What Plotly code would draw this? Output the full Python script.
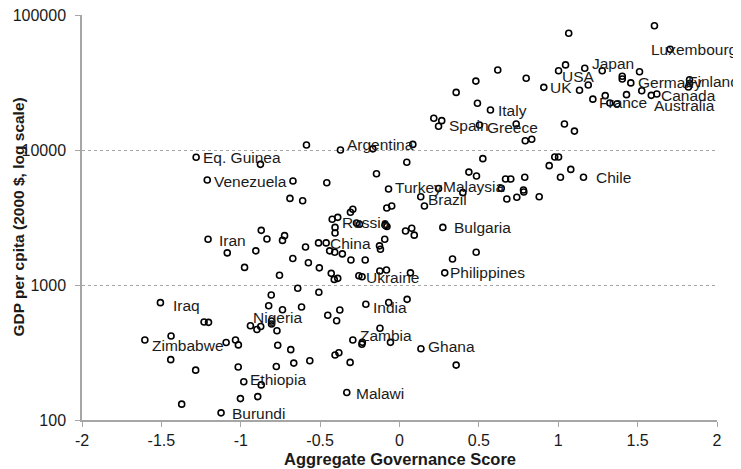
import math
import plotly.graph_objects as go

# Governance score (x) and GDP per capita (y) for each country point
gov = [1.606, 1.066, 1.705, 1.046, 1.167, 1.002, 1.277, 1.512, 1.403, 1.403,
       1.457, 1.189, 1.134, 0.909, 1.218, 1.296, 1.325, 1.369, 1.430, 1.526,
       1.586, 1.621, 1.827, 1.827, 1.820, 0.619, 0.798, 0.481, 0.357, 0.491,
       0.573, 0.216, 0.266, 0.246, 0.504, 0.735, 1.039, 1.102, 0.792, 0.833,
       0.084, -0.372, -0.168, -0.586,
       0.046, 0.525, 0.978, 1.002, 0.943, 1.079, 1.159, 1.014, 0.789, 0.668,
       0.701, 0.437, 0.485, 0.641, 0.781, 0.783, 0.676, 0.739, 0.880, 0.399,
       0.246, 0.134, 0.157, -1.281, -0.876, -1.211, -0.671, -0.458, -0.145, -0.069,
       -0.690, -0.610, -0.080, -0.049, -0.294, -0.309, -0.424, -0.389, -0.271, -0.252,
       -0.406, -0.406, -0.091, -0.079, -0.088, 0.038, -0.093, -0.126, -0.120, -1.206,
       -0.871, -0.835, -0.724, -0.737, -1.085, -0.905, -0.592, -0.510, -0.462, -0.440,
       -0.408, -0.360, -0.306, -0.216, -0.672, -0.574, -0.505, -0.976, -0.756, -0.430,
       -0.411, -0.389, -0.256, -0.236, -0.124, -0.082, 0.069, 0.077, 0.093, 0.273,
       0.483, 0.334, 0.285,
       -0.808, -0.641, -0.508, -1.506, -1.231, -1.203, -1.439, -1.604, -1.441, -1.284,
       -1.372, -1.124, -1.092, -1.033, -1.015, -1.016, -0.981, -0.871, -1.002, -0.893,
       -0.824, -0.737, -0.617, -0.939, -0.898, -0.874, -0.806, -0.806, -0.772, -0.767,
       -0.685, -0.776, -0.666, -0.565, -0.452, -0.376, -0.396, -0.212, -0.068, 0.048,
       -0.123, -0.294, -0.234, -0.237, -0.057, -0.406, -0.382, -0.311, -0.332, 0.135,
       0.357]

gdp = [83300, 73200, 55700, 42700, 40300, 38600, 38600, 38000, 35200, 33600,
       31400, 30300, 27700, 29100, 23800, 25300, 22300, 21900, 25700, 27500,
       25400, 26000, 33100, 31100, 29300, 39100, 34000, 32400, 26700, 22200,
       19800, 17200, 16500, 15000, 15300, 15600, 15600, 13800, 11700, 12000,
       11000, 10000, 10200, 10900,
       8110, 8630, 8870, 8870, 7660, 7180, 6290, 6290, 6290, 6100,
       6100, 6860, 6410, 5200, 5060, 4890, 4340, 4470, 4500, 4830,
       5190, 4510, 3850, 8840, 7830, 6000, 5890, 5720, 6670, 5140,
       4380, 4210, 3720, 3850, 3640, 3460, 3070, 3170, 2880, 2820,
       2670, 2430, 2800, 2710, 2760, 2510, 2180, 1950, 1840, 2180,
       2540, 2190, 2320, 2140, 1730, 1790, 1910, 2050, 2050, 1790,
       1750, 1700, 1530, 1530, 1570, 1460, 1340, 1350, 1180, 1220,
       1100, 1120, 1170, 1150, 1270, 1290, 1230, 2630, 2340, 2670,
       1750, 1560, 1230,
       843, 946, 883, 740, 532, 529, 419, 391, 280, 234,
       131, 113, 375, 391, 360, 247, 192, 182, 144, 149,
       702, 655, 687, 499, 468, 493, 541, 514, 458, 358,
       332, 249, 264, 275, 597, 653, 543, 720, 741, 783,
       478, 391, 376, 364, 376, 303, 315, 267, 160, 337,
       255]

# Country labels and the data position of each label's left edge
label_names = ["Luxembourg", "Japan", "USA", "UK", "Germany", "Finland", "Canada",
               "France", "Australia", "Italy", "Spain", "Greece", "Argentina",
               "Eq. Guinea", "Venezuela", "Turkey", "Malaysia", "Brazil", "Chile",
               "Russia", "China", "Iran", "Bulgaria", "Ukraine", "Philippines",
               "Iraq", "India", "Nigeria", "Zambia", "Zimbabwe", "Ghana",
               "Ethiopia", "Malawi", "Burundi"]
label_x = [1.585, 1.214, 1.025, 0.949, 1.501, 1.820, 1.649,
           1.254, 1.600, 0.622, 0.311, 0.550, -0.329,
           -1.235, -1.167, -0.027, 0.273, 0.178, 1.235,
           -0.363, -0.435, -1.134, 0.346, -0.214, 0.321,
           -1.428, -0.168, -0.920, -0.248, -1.562, 0.178,
           -0.940, -0.277, -1.054]
label_y = [55100, 43900, 34900, 29100, 31700, 31900, 25500,
           22500, 21200, 19500, 15200, 14600, 10900,
           8830, 5890, 5320, 5350, 4270, 6280,
           2910, 2040, 2150, 2670, 1140, 1230,
           711, 684, 577, 421, 357, 349,
           200, 158, 111]

x_ticks = [-2, -1.5, -1, -0.5, 0, 0.5, 1, 1.5, 2]
x_tick_text = ["-2", "-1.5", "-1", "-0.5", "0", "0.5", "1", "1.5", "2"]
y_ticks = [100, 1000, 10000, 100000]
y_tick_text = ["100", "1000", "10000", "100000"]

x_title = "Aggregate Governance Score"
y_title = "GDP per cpita (2000 $, log scale)"

FONT = "Liberation Sans, Arial, sans-serif"
TXT = "#1a1a1a"
AX = "#a6a6a6"

# page body has an 8px default margin, so the figure is sized to fit inside
W, H = 733, 461
ML, MR, MT, MB = 74, 24, 7, 49
PW, PH = W - ML - MR, H - MT - MB

fig = go.Figure()
fig.add_trace(go.Scatter(
    x=gov, y=gdp, mode="markers",
    marker=dict(symbol="circle", size=6, color="rgba(0,0,0,0)",
                line=dict(color="black", width=1.6)),
    hoverinfo="x+y", showlegend=False, cliponaxis=False,
))

for name, lx, ly in zip(label_names, label_x, label_y):
    # annotations on a log axis are positioned in log10 units
    fig.add_annotation(x=lx, y=math.log10(ly), xref="x", yref="y", text=name,
                       showarrow=False, xanchor="left", yanchor="middle",
                       xshift=-2,
                       font=dict(family=FONT, size=15.5, color=TXT))

# axis titles
fig.add_annotation(x=0.5, y=-39 / PH, xref="paper", yref="paper",
                   text="<b>" + x_title + "</b>", showarrow=False,
                   xanchor="center", yanchor="middle",
                   font=dict(family=FONT, size=16.5, color=TXT))
fig.add_annotation(x=-64 / PW, y=0.5, xref="paper", yref="paper",
                   text="<b>" + y_title + "</b>", showarrow=False, textangle=-90,
                   xanchor="center", yanchor="middle",
                   font=dict(family=FONT, size=15.5, color=TXT))

fig.update_layout(
    width=W, height=H,
    margin=dict(l=ML, r=MR, t=MT, b=MB),
    plot_bgcolor="white", paper_bgcolor="white",
    font=dict(family=FONT, color=TXT),
    xaxis=dict(
        range=[-2, 2], tickvals=x_ticks, ticktext=x_tick_text, automargin=False,
        showgrid=False, zeroline=False, showline=True, linecolor=AX,
        linewidth=1.5, ticks="outside", ticklen=5, tickcolor=AX,
        ticklabeloverflow="allow",
        tickfont=dict(size=16, family=FONT, color=TXT),
    ),
    yaxis=dict(
        type="log", range=[2, 5], tickvals=y_ticks, ticktext=y_tick_text,
        automargin=False, ticklabelstandoff=6, ticklabeloverflow="allow",
        showgrid=True, gridcolor=AX, griddash="dot", gridwidth=1,
        zeroline=False, showline=True, linecolor=AX, linewidth=1.5,
        ticks="outside", ticklen=5, tickcolor=AX,
        tickfont=dict(size=16, family=FONT, color=TXT),
    ),
)

fig.write_html("out.html")
